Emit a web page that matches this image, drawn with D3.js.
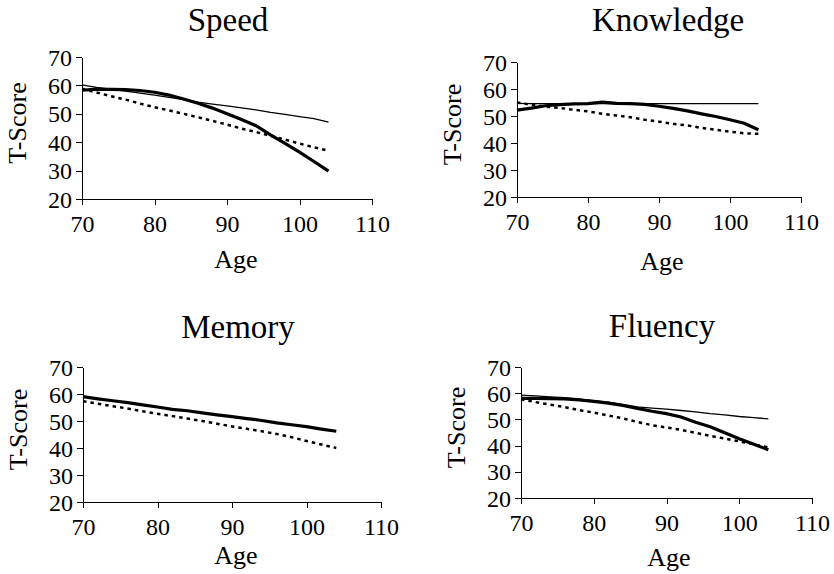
<!DOCTYPE html>
<meta charset="utf-8">
<style>
    body {
        margin: 0;
        background-color: #fff;
    }
    text {
        font-family: "Liberation Serif", "Times New Roman", serif;
        fill: #000;
    }
    .axis path,
    .axis line {
        fill: none;
        stroke: #000;
        stroke-width: 1px;
        shape-rendering: crispEdges;
    }
    .axis text {
        font-family: "Liberation Serif", "Times New Roman", serif;
        font-size: 24px;
    }
    .title {
        font-size: 33px;
    }
    .label {
        font-size: 26px;
    }
    .thin {
        fill: none;
        stroke: #000;
        stroke-width: 1.3px;
    }
    .thick {
        fill: none;
        stroke: #000;
        stroke-width: 3.2px;
    }
    .dotted {
        fill: none;
        stroke: #000;
        stroke-width: 2.5px;
        stroke-dasharray: 3.5,4;
    }
</style>
<body>
<svg width="834" height="574"></svg>
<script src="https://d3js.org/d3.v7.min.js"></script>
<script>
    // data
    var ages = [70, 72, 74, 76, 78, 80, 82, 84, 86, 88, 90, 92, 94, 96, 98, 100, 102, 104];
    var xTicks = [70, 80, 90, 100, 110];
    var yTicks = [20, 30, 40, 50, 60, 70];

    var speedThin   = [60.2, 59.3, 58.6, 58.0, 57.3, 56.6, 55.8, 55.0, 54.1, 53.4, 52.8, 52.1, 51.4, 50.5, 49.8, 49.0, 48.3, 47.1];
    var speedThick  = [58.3, 58.7, 58.6, 58.5, 58.2, 57.6, 56.6, 55.2, 53.7, 52.0, 50.0, 48.0, 45.8, 42.6, 39.6, 36.5, 33.2, 29.8];
    var speedDotted = [58.8, 57.5, 56.2, 55.0, 53.6, 52.3, 51.2, 50.0, 48.8, 47.5, 46.2, 44.8, 43.6, 42.2, 40.9, 39.5, 38.2, 37.0];

    var knowThin   = [54.7, 54.6, 54.6, 54.6, 54.6, 54.6, 54.6, 54.6, 54.6, 54.6, 54.6, 54.6, 54.6, 54.6, 54.6, 54.6, 54.6, 54.6];
    var knowThick  = [52.2, 52.9, 53.8, 54.2, 54.5, 54.6, 55.1, 54.7, 54.6, 54.3, 53.6, 52.8, 51.9, 50.8, 49.8, 48.6, 47.3, 44.9];
    var knowDotted = [55.0, 54.2, 53.5, 53.0, 52.3, 51.7, 50.8, 50.2, 49.5, 48.6, 47.9, 47.1, 46.5, 45.6, 44.9, 44.2, 43.6, 43.4];

    var memThick  = [59.0, 58.2, 57.5, 56.8, 56.0, 55.2, 54.3, 53.8, 53.0, 52.3, 51.6, 50.9, 50.2, 49.3, 48.6, 47.9, 47.0, 46.2];
    var memDotted = [57.3, 56.4, 55.5, 54.6, 53.6, 52.7, 51.8, 50.9, 50.0, 49.0, 48.0, 47.1, 46.2, 45.2, 44.0, 42.6, 41.3, 40.0];

    var fluThin   = [59.3, 59.0, 58.6, 58.3, 57.8, 57.2, 56.6, 55.7, 54.8, 54.3, 53.9, 53.4, 52.9, 52.2, 51.7, 51.1, 50.7, 50.2];
    var fluThick  = [58.0, 58.0, 57.9, 57.8, 57.4, 56.9, 56.2, 55.3, 54.2, 53.1, 52.2, 50.9, 48.9, 47.2, 44.9, 42.6, 40.5, 38.4];
    var fluDotted = [57.7, 56.6, 55.6, 54.7, 53.5, 52.6, 51.5, 50.4, 49.0, 47.8, 46.9, 46.0, 44.9, 43.7, 42.7, 41.6, 40.5, 39.3];

    var svg = d3.select("svg");

    var panels = [
        {title: "Speed", box: [82, 57, 372, 199], titleXY: [228, 31], ageXY: [236, 268],
            series: [["thin", speedThin], ["thick", speedThick], ["dotted", speedDotted]]},
        {title: "Knowledge", box: [517, 62, 801, 197], titleXY: [668, 31], ageXY: [662, 270],
            series: [["thin", knowThin], ["thick", knowThick], ["dotted", knowDotted]]},
        {title: "Memory", box: [83, 367, 381, 502], titleXY: [238, 338], ageXY: [236, 564],
            series: [["thick", memThick], ["dotted", memDotted]]},
        {title: "Fluency", box: [521, 367, 812, 498], titleXY: [662, 337], ageXY: [669, 566],
            series: [["thin", fluThin], ["thick", fluThick], ["dotted", fluDotted]]}
    ];

    panels.forEach(function(p) {
        var x0 = p.box[0], y0 = p.box[1], x1 = p.box[2], y1 = p.box[3];

        var x = d3.scaleLinear().domain([70, 110]).range([0, x1 - x0]);
        var y = d3.scaleLinear().domain([20, 70]).range([y1 - y0, 0]);

        var g = svg.append("g")
            .attr("transform", "translate(" + x0 + "," + y0 + ")");

        g.append("g")
            .attr("class", "axis")
            .attr("transform", "translate(0," + (y1 - y0) + ")")
            .call(d3.axisBottom(x).tickValues(xTicks).tickSize(6).tickSizeOuter(0))
            .selectAll("text")
            .attr("y", 33)
            .attr("dy", 0);

        g.append("g")
            .attr("class", "axis")
            .call(d3.axisLeft(y).tickValues(yTicks).tickSize(6).tickSizeOuter(0).tickPadding(4))
            .selectAll("text")
            .attr("dy", "0.34em");

        var line = d3.line()
            .x(function(d, i) { return x(ages[i]); })
            .y(function(d) { return y(d); });

        p.series.forEach(function(s) {
            g.append("path")
                .datum(s[1])
                .attr("class", s[0])
                .attr("d", line);
        });

        svg.append("text")
            .attr("class", "title")
            .attr("x", p.titleXY[0])
            .attr("y", p.titleXY[1])
            .attr("text-anchor", "middle")
            .text(p.title);

        svg.append("text")
            .attr("class", "label")
            .attr("x", p.ageXY[0])
            .attr("y", p.ageXY[1])
            .attr("text-anchor", "middle")
            .text("Age");

        svg.append("text")
            .attr("class", "label")
            .attr("transform", "translate(" + (x0 - 56) + "," + ((y0 + y1) / 2 - 5) + ") rotate(-90)")
            .attr("text-anchor", "middle")
            .text("T-Score");
    });
</script>
